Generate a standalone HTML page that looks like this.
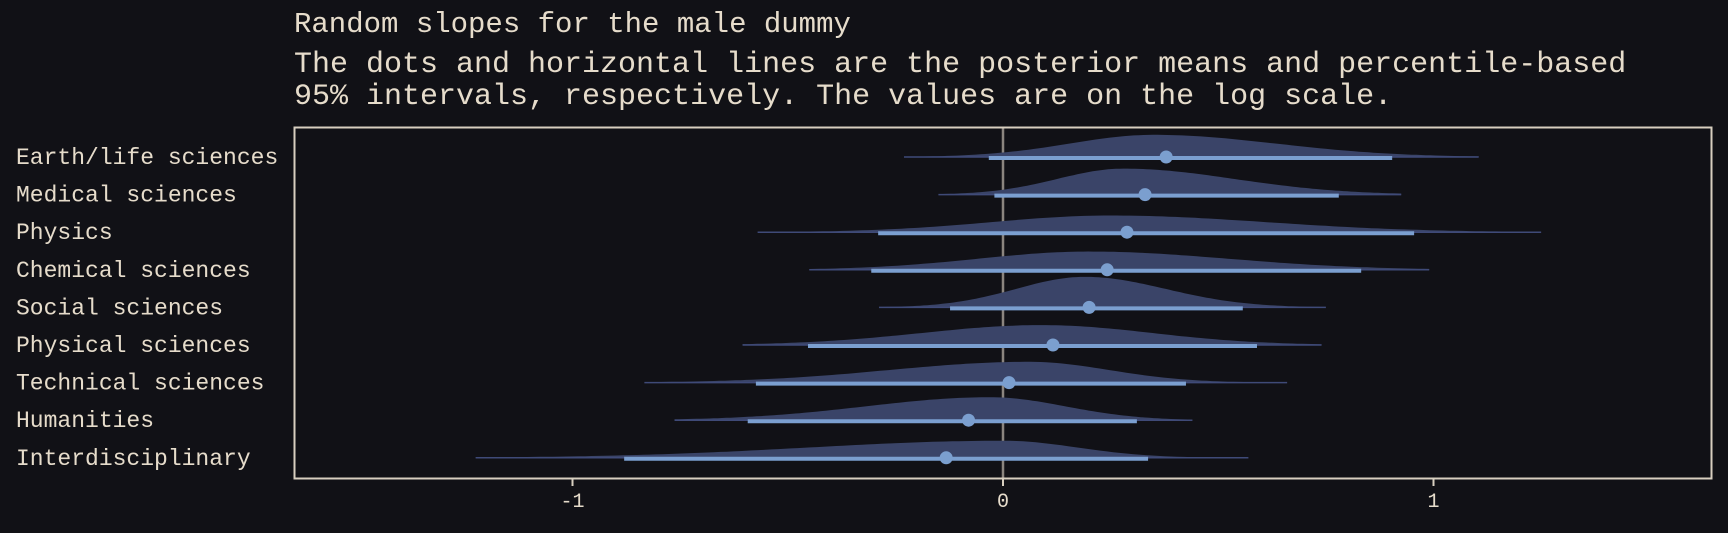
<!DOCTYPE html>
<html><head><meta charset="utf-8">
<style>
html,body{margin:0;padding:0;background:#111116;}
body{width:1728px;height:528px;overflow:hidden;}
svg text{font-family:"Liberation Mono",monospace;fill:#e6dccb;}
</style></head>
<body>
<svg id="chart" width="1728" height="528" xmlns="http://www.w3.org/2000/svg">
<rect x="0" y="0" width="1728" height="528" fill="#111116"/>
<text x="294" y="32" font-size="29">Random slopes for the male dummy</text>
<text x="294" y="72" font-size="30">The dots and horizontal lines are the posterior means and percentile-based</text>
<text x="294" y="104" font-size="30">95% intervals, respectively. The values are on the log scale.</text>
<g id="marks"></g>
<rect x="294.5" y="127.5" width="1417" height="351" fill="none" stroke="#d8cfc0" stroke-width="2"/>
</svg>
<script>
const categories=["Earth/life sciences","Medical sciences","Physics","Chemical sciences","Social sciences","Physical sciences","Technical sciences","Humanities","Interdisciplinary"];
const means=[0.379,0.33,0.288,0.242,0.2,0.116,0.014,-0.08,-0.132];
const lower95=[-0.033,-0.02,-0.29,-0.306,-0.123,-0.453,-0.574,-0.593,-0.88];
const upper95=[0.904,0.78,0.955,0.832,0.557,0.59,0.425,0.311,0.337];
const tailLow=[-0.23,-0.15,-0.57,-0.45,-0.288,-0.605,-0.833,-0.763,-1.225];
const tailHigh=[1.105,0.925,1.25,0.99,0.75,0.74,0.66,0.44,0.57];
const modes=[0.35,0.28,0.25,0.2,0.19,0.09,0.06,-0.03,0.0];
const xTicks=[-1,0,1];
const xTickLabels=["-1","0","1"];

const NS="http://www.w3.org/2000/svg";
const g=document.getElementById('marks');
const X=v=>1003+v*430.5;
const Y=i=>157+i*37.6;
function mk(tag,attrs,parent){const e=document.createElementNS(NS,tag);for(const k in attrs)e.setAttribute(k,attrs[k]);(parent||g).appendChild(e);return e;}

let zl=mk('line',{x1:X(0),x2:X(0),y1:128,y2:478,stroke:'#8b857f','stroke-width':2.5});



categories.forEach((c,i)=>{
  const y=Y(i);
  const sdL=(modes[i]-lower95[i])/1.96, sdR=(upper95[i]-modes[i])/1.96;
  const H=10.6/(sdL+sdR);
  let d=`M${X(tailLow[i])},${y}`;
  const n=120;
  for(let k=0;k<=n;k++){
    const v=tailLow[i]+(tailHigh[i]-tailLow[i])*k/n;
    const s=v<modes[i]?sdL:sdR;
    const h=H*Math.exp(-0.5*((v-modes[i])/s)**2);
    d+=` L${X(v).toFixed(1)},${(y-h).toFixed(1)}`;
  }
  d+=` L${X(tailHigh[i])},${y} Z`;
  const dens=mk('path',{d:d,fill:'#3a4468'});
  
  
  const tail=mk('line',{x1:X(tailLow[i]),x2:X(tailHigh[i]),y1:y,y2:y,stroke:'#3f4a78','stroke-width':1.5});
  
  
  const ci=mk('line',{x1:X(lower95[i]),x2:X(upper95[i]),y1:y+1,y2:y+1,stroke:'#7b9fd0','stroke-width':4});
  
  
  const dot=mk('circle',{cx:X(means[i]),cy:y,r:6.5,fill:'#7b9fcf'});
  
  
  const lab=mk('text',{x:16,y:y+7,'font-size':23});
  lab.textContent=c;
  
  
});

xTicks.forEach((t,j)=>{
  const tk=mk('line',{x1:X(t),x2:X(t),y1:479,y2:486,stroke:'#d8cfc0','stroke-width':2});
  
  
  const tl=mk('text',{x:X(t),y:507,'font-size':20,'text-anchor':'middle'});
  tl.textContent=xTickLabels[j];
  
  
});
</script>
</body></html>
